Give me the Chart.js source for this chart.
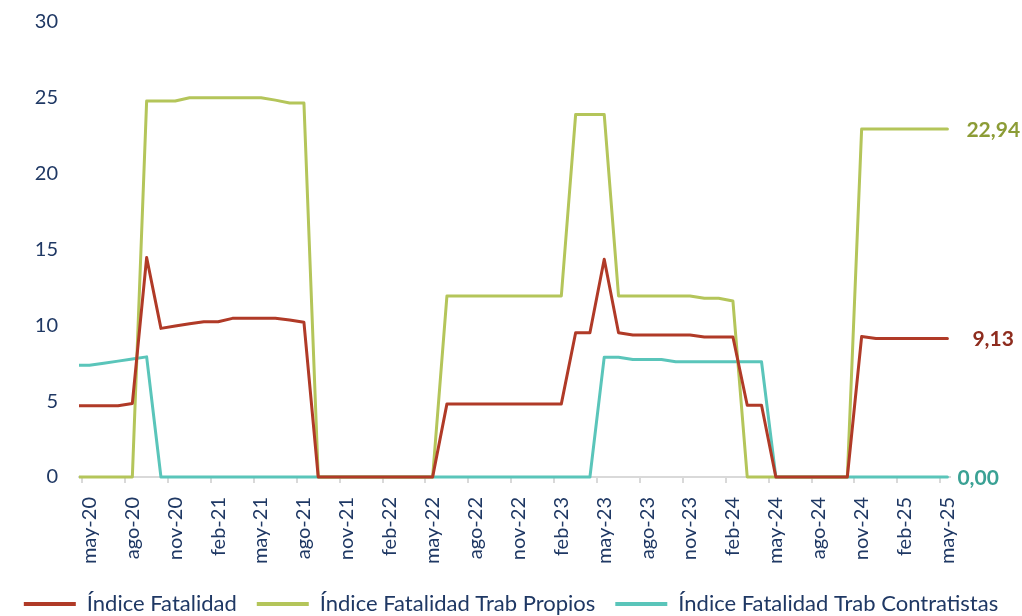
<!DOCTYPE html>
<html lang="es">
<head>
<meta charset="utf-8">
<title>Índice de Fatalidad</title>
<script src="https://cdn.jsdelivr.net/npm/chart.js@4.4.1/dist/chart.umd.min.js"></script>
<style>
    html, body { margin: 0; padding: 0; background: #ffffff; }
    #wrap { position: relative; width: 1022px; height: 616px; }
</style>
</head>
<body>
<div id="wrap"><canvas id="chart"></canvas></div>
<script>
// Monthly categories, abr-20 .. may-25 (first month sits just outside the plot edge)
const months = [
    'abr-20', 'may-20', 'jun-20', 'jul-20', 'ago-20', 'sep-20', 'oct-20', 'nov-20', 'dic-20',
    'ene-21', 'feb-21', 'mar-21', 'abr-21', 'may-21', 'jun-21', 'jul-21', 'ago-21', 'sep-21', 'oct-21', 'nov-21', 'dic-21',
    'ene-22', 'feb-22', 'mar-22', 'abr-22', 'may-22', 'jun-22', 'jul-22', 'ago-22', 'sep-22', 'oct-22', 'nov-22', 'dic-22',
    'ene-23', 'feb-23', 'mar-23', 'abr-23', 'may-23', 'jun-23', 'jul-23', 'ago-23', 'sep-23', 'oct-23', 'nov-23', 'dic-23',
    'ene-24', 'feb-24', 'mar-24', 'abr-24', 'may-24', 'jun-24', 'jul-24', 'ago-24', 'sep-24', 'oct-24', 'nov-24', 'dic-24',
    'ene-25', 'feb-25', 'mar-25', 'abr-25', 'may-25'
];

// Axis labels shown every 3 months
const tickLabels = [
    'may-20', 'ago-20', 'nov-20', 'feb-21', 'may-21', 'ago-21', 'nov-21', 'feb-22', 'may-22', 'ago-22', 'nov-22',
    'feb-23', 'may-23', 'ago-23', 'nov-23', 'feb-24', 'may-24', 'ago-24', 'nov-24', 'feb-25', 'may-25'
];

const indiceFatalidad = [
    4.70, 4.70, 4.70, 4.70, 4.85, 14.47, 9.80, 9.95, 10.10, 10.24, 10.24, 10.46, 10.46, 10.46, 10.46, 10.35, 10.20,
    0, 0, 0, 0, 0, 0, 0, 0, 0,
    4.82, 4.82, 4.82, 4.82, 4.82, 4.82, 4.82, 4.82, 4.82,
    9.51, 9.51, 14.36, 9.51, 9.36, 9.36, 9.36, 9.36, 9.36, 9.23, 9.23, 9.23, 4.73, 4.73,
    0, 0, 0, 0, 0, 0,
    9.26, 9.13, 9.13, 9.13, 9.13, 9.13, 9.13
];

const indicePropios = [
    0, 0, 0, 0, 0, 24.79, 24.79, 24.79, 25.00, 25.00, 25.00, 25.00, 25.00, 25.00, 24.85, 24.66, 24.66,
    0, 0, 0, 0, 0, 0, 0, 0, 0,
    11.94, 11.94, 11.94, 11.94, 11.94, 11.94, 11.94, 11.94, 11.94,
    23.90, 23.90, 23.90, 11.94, 11.94, 11.94, 11.94, 11.94, 11.94, 11.78, 11.78, 11.60,
    0, 0, 0, 0, 0, 0, 0, 0,
    22.94, 22.94, 22.94, 22.94, 22.94, 22.94, 22.94
];

const indiceContratistas = [
    7.37, 7.37, 7.50, 7.64, 7.78, 7.92,
    0, 0, 0, 0, 0, 0, 0, 0, 0, 0, 0, 0, 0, 0, 0, 0, 0, 0, 0, 0, 0, 0, 0, 0, 0, 0, 0, 0, 0, 0, 0,
    7.90, 7.90, 7.75, 7.75, 7.75, 7.60, 7.60, 7.60, 7.60, 7.60, 7.60, 7.60,
    0, 0, 0, 0, 0, 0, 0, 0, 0, 0, 0, 0, 0
];

const NAVY = '#1F3864';
const FONT = "Lato, 'Open Sans', sans-serif";

// month index 0 = may-20 tick; each value sits mid-month (index + 0.5)
const toPoints = (values) => values.map((v, i) => ({ x: i - 1 + 0.5, y: v }));

// Value labels at the end of each line
const endLabels = {
    id: 'endLabels',
    afterDatasetsDraw(chart) {
        const ctx = chart.ctx;
        ctx.save();
        ctx.font = `bold 21px ${FONT}`;
        ctx.textBaseline = 'middle';
        ctx.textAlign = 'left';
        chart.data.datasets.forEach((ds, i) => {
            const meta = chart.getDatasetMeta(i);
            const last = meta.data[meta.data.length - 1];
            const value = ds.data[ds.data.length - 1].y;
            ctx.fillStyle = ds.labelColor;
            ctx.fillText(value.toFixed(2).replace('.', ','), last.x + ds.labelOffset, last.y + 1);
        });
        ctx.restore();
    }
};

const monthTicks = (offset) => (scale) => {
    scale.ticks = tickLabels.map((_, k) => ({ value: k * 3 + offset }));
};

new Chart(document.getElementById('chart'), {
    type: 'line',
    data: {
        datasets: [
            {
                label: 'Índice Fatalidad',
                data: toPoints(indiceFatalidad),
                borderColor: '#B03A27',
                backgroundColor: '#B03A27',
                labelColor: '#8E2C1E',
                labelOffset: 25
            },
            {
                label: 'Índice Fatalidad Trab Propios',
                data: toPoints(indicePropios),
                borderColor: '#B4C55A',
                backgroundColor: '#B4C55A',
                labelColor: '#8C9C36',
                labelOffset: 19
            },
            {
                label: 'Índice Fatalidad Trab Contratistas',
                data: toPoints(indiceContratistas),
                borderColor: '#5AC5BA',
                backgroundColor: '#5AC5BA',
                labelColor: '#3AA194',
                labelOffset: 10
            }
        ]
    },
    options: {
        responsive: true,
        maintainAspectRatio: false,
        animation: false,
        layout: { padding: { left: 0, right: 0, top: 22, bottom: -9 } },
        elements: {
            point: { radius: 0 },
            line: { borderWidth: 3, tension: 0, borderJoinStyle: 'round', borderCapStyle: 'round' }
        },
        datasets: { line: { clip: { left: 0, top: 5, right: 5, bottom: 5 } } },
        plugins: {
            legend: {
                position: 'bottom',
                labels: {
                    font: { family: FONT, size: 22 },
                    color: NAVY,
                    boxWidth: 52,
                    boxHeight: 4,
                    padding: 20,
                    generateLabels(chart) {
                        const items = Chart.defaults.plugins.legend.labels.generateLabels(chart);
                        items.forEach(it => { it.lineWidth = 0; });
                        return items;
                    }
                }
            },
            tooltip: { enabled: false }
        },
        scales: {
            // tick marks at month boundaries, axis line
            xm: {
                type: 'linear',
                position: 'bottom',
                weight: 0,
                min: -0.23,
                max: 60.68,
                afterBuildTicks: monthTicks(0),
                ticks: { display: false },
                grid: { drawOnChartArea: false, drawTicks: true, tickLength: 6, color: '#D9D9D9', lineWidth: 2 },
                border: { display: true, color: '#D9D9D9', width: 2 }
            },
            // month labels
            x: {
                type: 'linear',
                position: 'bottom',
                weight: 1,
                min: -0.23,
                max: 60.68,
                afterBuildTicks: monthTicks(0.5),
                afterFit(scale) { scale.height = 90; },
                ticks: {
                    minRotation: 90,
                    maxRotation: 90,
                    padding: 14,
                    color: NAVY,
                    font: { family: FONT, size: 20 },
                    callback: (value) => tickLabels[Math.round((value - 0.5) / 3)]
                },
                grid: { display: false, drawTicks: false },
                border: { display: false }
            },
            y: {
                min: 0,
                max: 30,
                afterFit(scale) { scale.width = 79; },
                ticks: {
                    stepSize: 5,
                    padding: 2,
                    color: NAVY,
                    font: { family: FONT, size: 20 }
                },
                // invisible tick marks only push the labels away from the plot
                grid: { display: false, drawTicks: true, tickLength: 19 },
                border: { display: false }
            },
            // empty right gutter that holds the end-of-line value labels
            yr: {
                position: 'right',
                min: 0,
                max: 30,
                afterFit(scale) { scale.width = 72; },
                ticks: { display: false },
                grid: { display: false, drawTicks: false },
                border: { display: false }
            }
        }
    },
    plugins: [endLabels]
});
</script>
</body>
</html>
